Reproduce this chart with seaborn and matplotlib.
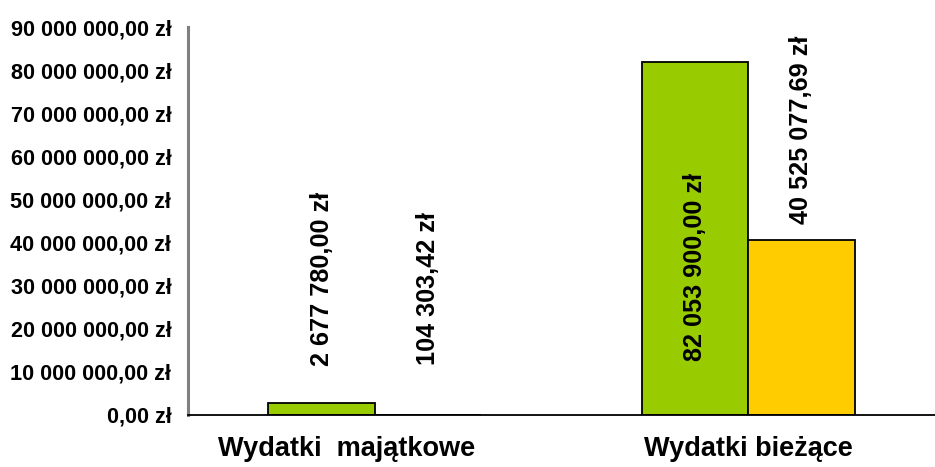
import matplotlib
matplotlib.use("Agg")
import matplotlib.pyplot as plt
import matplotlib.transforms as mtransforms
from matplotlib.ticker import FuncFormatter, MultipleLocator
import seaborn as sns
import pandas as pd

# Budget expenditures: planned vs. executed
categories = ["Wydatki  majątkowe", "Wydatki bieżące"]
series = ["Plan", "Wykonanie"]
plan_values = [2677780.00, 82053900.00]
executed_values = [104303.42, 40525077.69]
colors = ["#99CC00", "#FFCC00"]

df = pd.DataFrame({
    "kategoria": categories * 2,
    "seria": [series[0]] * 2 + [series[1]] * 2,
    "kwota": plan_values + executed_values,
})


def pln(v, decimals=2):
    s = f"{v:,.{decimals}f}"
    return s.replace(",", " ").replace(".", ",") + " zł"


sns.set_theme(style="white")
plt.rcParams["font.family"] = ["Liberation Sans", "DejaVu Sans"]
plt.rcParams["font.weight"] = "bold"

fig = plt.figure(figsize=(9.35, 4.67), dpi=100)
ax = fig.add_axes([188 / 935, 52 / 467, 747 / 935, (415 - 27.3) / 467])

sns.barplot(data=df, x="kategoria", y="kwota", hue="seria", order=categories,
            hue_order=series, palette=colors, width=0.57, gap=0, dodge=True,
            edgecolor="black", linewidth=1.3, saturation=1, legend=False, ax=ax)

ax.set_xlim(-0.5, 1.5)
ax.set_ylim(0, 90_000_000)
ax.yaxis.set_major_locator(MultipleLocator(10_000_000))
ax.yaxis.set_major_formatter(FuncFormatter(lambda v, _: pln(v)))
ax.set_xlabel("")
ax.set_ylabel("")

# Category boundaries get the x ticks, labels sit at category centres
ax.set_xticks([-0.5, 0.5, 1.5], minor=False)
ax.set_xticklabels([])
ax.set_xticks([0, 1], minor=True)
ax.set_xticklabels(categories, minor=True, fontsize=19.5, fontweight="bold", color="black")
ax.tick_params(axis="x", which="minor", length=0, pad=15)
ax.tick_params(axis="x", which="major", length=7, width=1.5, color="#808080", direction="out")
ax.tick_params(axis="y", length=7, width=1.2, color="#333333", direction="out",
               labelsize=15.6, labelcolor="black", pad=5)
for lab in ax.get_yticklabels():
    lab.set_fontweight("bold")

first = ax.xaxis.get_minorticklabels()[0]
first.set_transform(first.get_transform()
                    + mtransforms.ScaledTranslation(-0.28, 0, fig.dpi_scale_trans))

for side in ("top", "right"):
    ax.spines[side].set_visible(False)
ax.spines["left"].set_color("#808080")
ax.spines["left"].set_linewidth(2.2)
ax.spines["bottom"].set_color("black")
ax.spines["bottom"].set_linewidth(1.3)
ax.spines["left"].set_bounds(0, 90_000_000)
ax.grid(False)

# Value labels, rotated; offsets in points from each bar top
label_offsets = {
    (0, 0): (27, "bottom"),
    (0, 1): (35.5, "bottom"),
    (1, 0): (-80, "top"),
    (1, 1): (12, "bottom"),
}
values_by_series = [plan_values, executed_values]
for s_idx, container in enumerate(ax.containers):
    for c_idx, bar in enumerate(container):
        val = values_by_series[s_idx][c_idx]
        dy, va = label_offsets[(c_idx, s_idx)]
        ax.annotate(pln(val), (bar.get_x() + bar.get_width() / 2, val),
                    xytext=(0, dy), textcoords="offset points",
                    rotation=90, ha="center", va=va,
                    fontsize=18.2, fontweight="bold", color="black",
                    annotation_clip=False)

fig.savefig("out.png", dpi=100)
